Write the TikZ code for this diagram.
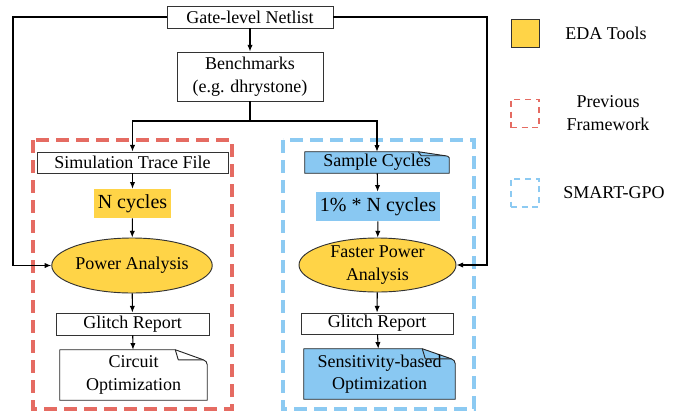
\documentclass[tikz,border=0pt]{standalone}
\usepackage{fontspec}
\setmainfont{LiberationSerif}[Extension=.ttf, UprightFont=*-Regular, BoldFont=*-Bold]
\usepackage{tikz}
\usetikzlibrary{arrows.meta,positioning,shapes.geometric,calc}
\definecolor{EdaYellow}{RGB}{255,212,71}
\definecolor{GpoBlue}{RGB}{137,200,242}
\definecolor{PrevRed}{RGB}{229,107,98}
\definecolor{GpoLine}{RGB}{140,202,242}
\pgfdeclarelayer{bg}
\pgfsetlayers{bg,main}
\tikzset{
  flowbox/.style={draw=black!80, line width=0.7pt, inner sep=0pt, align=center},
  edabox/.style={fill=EdaYellow, inner sep=0pt, font=\fontsize{15}{17}\selectfont},
  gpobox/.style={fill=GpoBlue, inner sep=0pt, font=\fontsize{15}{17}\selectfont},
  edaell/.style={ellipse, draw=black!80, fill=EdaYellow, line width=0.7pt, inner xsep=0pt, inner ysep=-1pt, align=center},
  docnode/.style={inner sep=0pt, align=center},
  docline/.style={draw=black!85, line width=0.7pt, line join=round},
  flow/.style={-{Latex[length=5pt,width=4pt]}, line width=0.8pt},
  prevframe/.style={PrevRed, line width=2.3pt, dash pattern=on 10pt off 5pt},
  gpoframe/.style={GpoLine, line width=2.3pt, dash pattern=on 10pt off 5pt},
  keybox/.style={minimum size=21pt, inner sep=0pt},
}
\newcommand{\dogear}[4]{%
  \begin{pgfonlayer}{bg}
    \filldraw[docline, fill=#2] (#1.south west) -- (#1.north west) -- ($(#1.north east)+(-#3,0)$)
      -- ($(#1.north east)+(-4,0.67*#4)$) to[out=-20,in=90] ($(#1.north east)+(0,#4)$)
      -- (#1.south east) -- cycle;
  \end{pgfonlayer}
  \draw[docline] ($(#1.north east)+(-#3,0)$) -- ($(#1.north east)+(-#3+3,0.67*#4)$) -- ($(#1.north east)+(-4,0.67*#4)$);}

\begin{document}
\begin{tikzpicture}[x=0.75pt, y=-0.75pt, font=\fontsize{13.5}{17}\selectfont]
    \useasboundingbox (0,0) rectangle (676,411);
    \draw[prevframe] (33,140) rectangle (232,409);
    \draw[gpoframe] (283,140) rectangle (474,409);

    \node[flowbox, minimum width=124.5pt, minimum height=16.5pt] (netlist) at (250,17) {Gate-level Netlist};
    \node[flowbox, minimum width=109.5pt, minimum height=36.75pt] (bench) at (250,76.5) {Benchmarks\\(e.g. dhrystone)};

    \node[flowbox, minimum width=143.25pt, minimum height=15.75pt] (simtrace) at (132.5,162.5) {Simulation Trace File};
    \node[edabox, minimum width=57.75pt, minimum height=21.75pt] (ncyc) at (132.5,203.5) {N cycles};
    \node[edaell, minimum width=115.5pt, minimum height=41.25pt] (power) at (132,265.5) {Power Analysis};
    \node[flowbox, minimum width=114.75pt, minimum height=16.5pt] (glitchl) at (132.5,324) {Glitch Report};
    \node[docnode, minimum width=110.25pt, minimum height=37.5pt] (circopt) at (133.5,375) {Circuit\\Optimization};
    \dogear{circopt}{white}{32}{15}

    \node[docnode, minimum width=108pt, minimum height=15.75pt] (sample) at (377,162.5) {Sample Cycles};
    \dogear{sample}{GpoBlue}{31}{6}
    \node[gpobox, minimum width=93pt, minimum height=21.75pt] (pctcyc) at (378,206.5) {1\% * N cycles};
    \node[edaell, minimum width=117.75pt, minimum height=40.5pt] (faster) at (377.5,265) {Faster Power\\Analysis};
    \node[flowbox, minimum width=114pt, minimum height=15.75pt] (glitchr) at (377,323.5) {Glitch Report};
    \node[docnode, minimum width=113.25pt, minimum height=37.5pt] (sensopt) at (379.5,374) {Sensitivity-based\\Optimization};
    \dogear{sensopt}{GpoBlue}{33}{15}

    \coordinate (nlleft) at (13,17);
    \coordinate (nlright) at (487,17);
    \coordinate (fork) at (250,121);
    \draw[flow] (netlist) -- (bench);
    \draw[line width=0.8pt] (bench) -- (fork);
    \draw[flow] (fork) -| (simtrace);
    \draw[flow] (fork) -| (sample);
    \draw[flow] (netlist.west) -- (nlleft) |- (power.west);
    \draw[flow] (netlist.east) -- (nlright) |- (faster.east);

    \draw[flow] (simtrace) -- (ncyc);
    \draw[flow] (ncyc) -- (power);
    \draw[flow] (power) -- (glitchl);
    \draw[flow] (glitchl) -- (circopt);
    \draw[flow] (sample) -- (pctcyc);
    \draw[flow] (pctcyc) -- (faster);
    \draw[flow] (faster) -- (glitchr);
    \draw[flow] (glitchr) -- (sensopt);

    \node[keybox, draw=black!80, line width=0.7pt, fill=EdaYellow] (keyeda) at (525,33.5) {};
    \node (txteda) at (606,33) {EDA Tools};
    \node[keybox, draw=PrevRed, line width=1.1pt, dash pattern=on 4.5pt off 3.5pt] (keyprev) at (525,113.5) {};
    \node[align=center] (txtprev) at (608,113) {Previous\\Framework};
    \node[keybox, draw=GpoLine, line width=1.1pt, dash pattern=on 4.5pt off 3.5pt] (keygpo) at (525,193) {};
    \node (txtgpo) at (614,193) {SMART-GPO};
  \end{tikzpicture}
\end{document}
